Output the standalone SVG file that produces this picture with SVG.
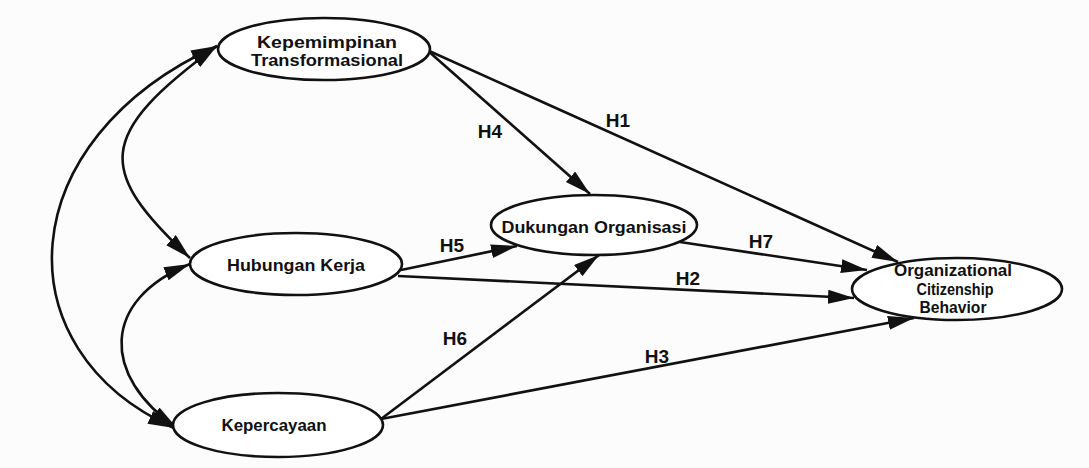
<svg xmlns="http://www.w3.org/2000/svg" width="1089" height="468" viewBox="0 0 1089 468">
  <style>
    .node ellipse { fill: #ffffff; stroke: #111111; stroke-width: 2.6; }
    .node text { font-family: "Liberation Sans", Arial, sans-serif; font-weight: bold; font-size: 17px; fill: #111111; text-anchor: middle; }
    .link { fill: none; stroke: #111111; stroke-width: 2.6; }
    .lbl { font-family: "Liberation Sans", Arial, sans-serif; font-weight: bold; font-size: 19px; fill: #111111; text-anchor: middle; }
  </style>
  <defs>
    <marker id="head" markerUnits="userSpaceOnUse" markerWidth="28" markerHeight="16" refX="26" refY="7" orient="auto-start-reverse">
      <path d="M0,0 L26,7 L0,14 z" fill="#111111"/>
    </marker>
  </defs>

  <rect width="1089" height="468" fill="#fcfcfc"/>

  <!-- connectors -->
  <g id="connectors">
    <!-- correlations between exogenous constructs -->
    <path class="link" d="M217,46 C10,140 0,350 174,428" marker-start="url(#head)" marker-end="url(#head)"/>
    <path class="link" d="M217,46 C96,135 96,170 190,258" marker-start="url(#head)" marker-end="url(#head)"/>
    <path class="link" d="M190,264 C101,300 101,376 177,428" marker-start="url(#head)" marker-end="url(#head)"/>
    <!-- hypothesised paths -->
    <path class="link" d="M427,50 L590,194" marker-end="url(#head)"/>
    <path class="link" d="M427,50 L898,262" marker-end="url(#head)"/>
    <path class="link" d="M401,270 L517,246" marker-end="url(#head)"/>
    <path class="link" d="M398,276 L854,298" marker-end="url(#head)"/>
    <path class="link" d="M381,419 L599,255" marker-end="url(#head)"/>
    <path class="link" d="M381,419 L914,318" marker-end="url(#head)"/>
    <path class="link" d="M680,242 L867,270" marker-end="url(#head)"/>

    <text class="lbl" x="490" y="138">H4</text>
    <text class="lbl" x="618" y="127">H1</text>
    <text class="lbl" x="452" y="252">H5</text>
    <text class="lbl" x="761" y="248">H7</text>
    <text class="lbl" x="688" y="285">H2</text>
    <text class="lbl" x="455" y="345">H6</text>
    <text class="lbl" x="657" y="363">H3</text>
  </g>

  <!-- constructs -->
  <g id="kepemimpinan" class="node">
    <ellipse cx="324" cy="49" rx="106" ry="31"/>
    <text x="327" y="48" textLength="140" lengthAdjust="spacingAndGlyphs">Kepemimpinan</text>
    <text x="327" y="66" textLength="152" lengthAdjust="spacingAndGlyphs">Transformasional</text>
  </g>
  <g id="hubungan" class="node">
    <ellipse cx="296" cy="264" rx="106" ry="31"/>
    <text x="296" y="271" textLength="138" lengthAdjust="spacingAndGlyphs">Hubungan Kerja</text>
  </g>
  <g id="kepercayaan" class="node">
    <ellipse cx="278" cy="425" rx="105" ry="32"/>
    <text x="274" y="431" textLength="105" lengthAdjust="spacingAndGlyphs">Kepercayaan</text>
  </g>
  <g id="dukungan" class="node">
    <ellipse cx="594" cy="225" rx="103" ry="30"/>
    <text x="594" y="233" textLength="185" lengthAdjust="spacingAndGlyphs">Dukungan Organisasi</text>
  </g>
  <g id="ocb" class="node">
    <ellipse cx="957" cy="289" rx="105" ry="31"/>
    <text x="953" y="276" textLength="118" lengthAdjust="spacingAndGlyphs">Organizational</text>
    <text x="955" y="295" textLength="77" lengthAdjust="spacingAndGlyphs">Citizenship</text>
    <text x="953" y="313" textLength="67" lengthAdjust="spacingAndGlyphs">Behavior</text>
  </g>
</svg>
